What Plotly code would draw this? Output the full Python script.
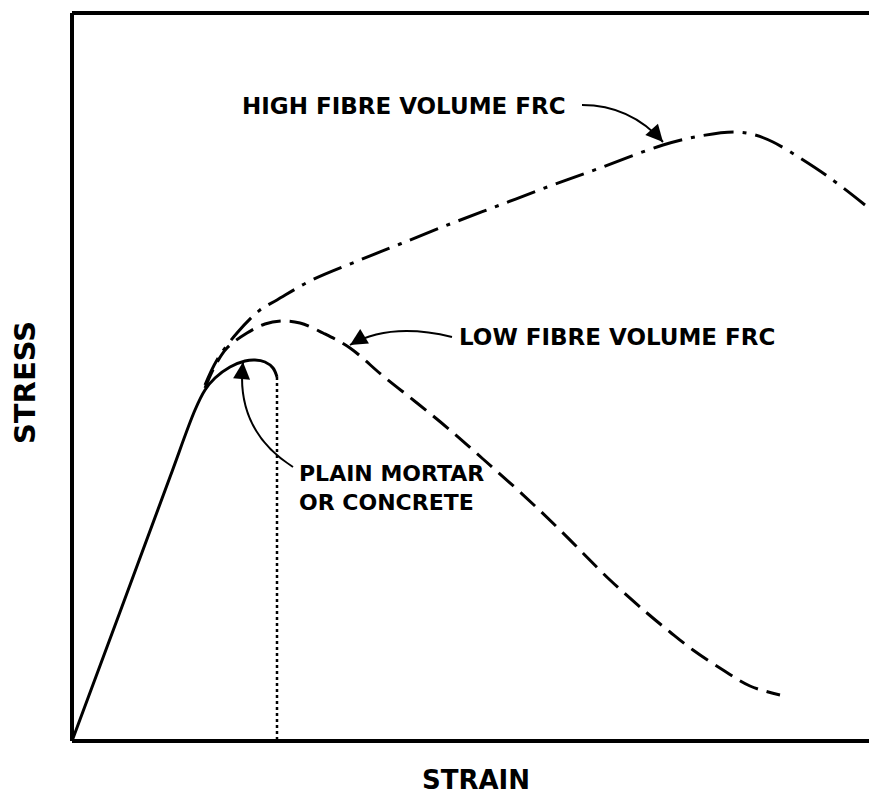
import plotly.graph_objects as go

# stress-strain curves (arbitrary units)
plain_strain = [0, 0.48, 0.98, 1.23, 1.33, 1.43, 1.58, 1.73, 1.83, 1.93, 2.01, 2.05]
plain_stress = [0, 1.29, 2.64, 3.31, 3.51, 3.63, 3.74, 3.80, 3.81, 3.79, 3.73, 3.64]

low_strain = [1.33, 1.43, 1.55, 1.75, 1.93, 2.11, 2.28, 2.51, 2.78, 3.11, 3.45,
              3.78, 4.11, 4.48, 4.88, 5.38, 5.75, 5.98, 6.21, 6.51, 6.78, 7.08]
low_stress = [3.53, 3.75, 3.93, 4.08, 4.17, 4.20, 4.18, 4.08, 3.93, 3.65, 3.38,
              3.11, 2.82, 2.49, 2.11, 1.61, 1.28, 1.09, 0.91, 0.71, 0.55, 0.46]

high_strain = [1.33, 1.45, 1.65, 1.88, 2.05, 2.38, 2.88, 3.28, 3.78, 4.28, 4.78,
               5.28, 5.91, 6.28, 6.63, 6.83, 7.01, 7.28, 7.58, 7.93]
high_stress = [3.56, 3.81, 4.08, 4.31, 4.41, 4.60, 4.81, 4.97, 5.17, 5.36, 5.55,
               5.73, 5.96, 6.05, 6.09, 6.06, 5.99, 5.83, 5.63, 5.36]

# failure strain of plain mortar (dotted drop)
drop_strain = [2.05, 2.05]
drop_stress = [3.64, 0]

font = dict(family="DejaVu Sans", color="black", weight="bold")

fig = go.Figure()
fig.add_trace(go.Scatter(x=high_strain, y=high_stress, mode="lines",
                         line=dict(color="black", width=3, dash="30px,9px,4px,9px", shape="spline")))
fig.add_trace(go.Scatter(x=low_strain, y=low_stress, mode="lines",
                         line=dict(color="black", width=3, dash="20px,9px", shape="spline")))
fig.add_trace(go.Scatter(x=plain_strain, y=plain_stress, mode="lines",
                         line=dict(color="black", width=3, shape="spline")))
fig.add_trace(go.Scatter(x=drop_strain, y=drop_stress, mode="lines",
                         line=dict(color="black", width=2.5, dash="3px,3px")))

# frame: left, bottom and top only (right side runs off the page in the original)
for x0, y0, x1, y1 in [(0, 0, 0, 1), (0, 0, 1, 0), (0, 1, 1, 1)]:
    fig.add_shape(type="line", xref="paper", yref="paper", x0=x0, y0=y0, x1=x1, y1=y1,
                  line=dict(color="black", width=4))

# curved leader lines
leaders = [
    "M 5.10,6.36 Q 5.58,6.36 5.91,5.99",
    "M 3.80,4.04 Q 3.18,4.19 2.78,3.96",
    "M 2.21,2.74 Q 1.63,3.11 1.71,3.79",
]
for p in leaders:
    fig.add_shape(type="path", path=p, xref="x", yref="y",
                  line=dict(color="black", width=2))

# arrow heads at the leader tips
for x, y, ax, ay in [(5.91, 5.99, -9, -10), (2.78, 3.96, 10, -6), (1.71, 3.79, -1, 12)]:
    fig.add_annotation(x=x, y=y, ax=ax, ay=ay, text="", showarrow=True,
                       arrowhead=2, arrowsize=1.7, arrowwidth=2, arrowcolor="black", standoff=0)

labels = [
    (1.68, 6.35, "HIGH FIBRE VOLUME FRC", 23),
    (3.85, 4.04, "LOW FIBRE VOLUME FRC", 23),
    (2.25, 2.53, "PLAIN MORTAR<br>OR CONCRETE", 22),
]
for x, y, t, s in labels:
    fig.add_annotation(x=x, y=y, text=t, showarrow=False, xanchor="left", align="left",
                       font=dict(size=s, **font))

# axis titles
fig.add_annotation(xref="paper", yref="paper", x=-0.059, y=0.493, text="STRESS",
                   xanchor="center", yanchor="middle",
                   showarrow=False, textangle=-90, font=dict(size=29, **font))
fig.add_annotation(xref="paper", yref="paper", x=0.507, y=-0.054, text="STRAIN",
                   xanchor="center", yanchor="middle",
                   showarrow=False, font=dict(size=26, **font))

fig.update_xaxes(range=[0, 7.97], showline=False,
                 showgrid=False, zeroline=False, showticklabels=False, ticks="")
fig.update_yaxes(range=[0, 7.28], showline=False,
                 showgrid=False, zeroline=False, showticklabels=False, ticks="")
# page body adds an 8px margin, so the figure is sized to fit inside the window
fig.update_layout(width=861, height=791, margin=dict(l=64, r=0, t=5, b=58),
                  plot_bgcolor="white", paper_bgcolor="white", showlegend=False)

fig.write_html("out.html")
